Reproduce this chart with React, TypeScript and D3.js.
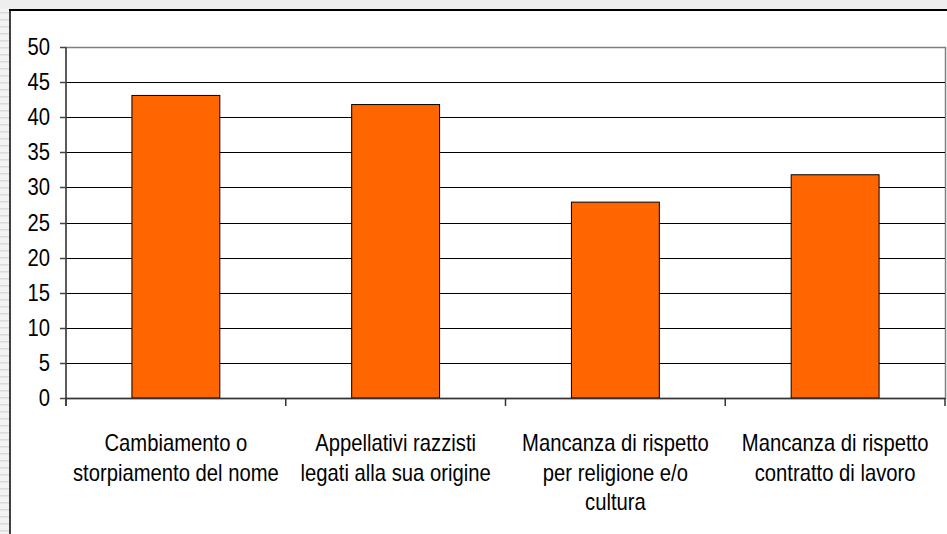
import React from "react";
import * as d3 from "d3";

const categories: string[][] = [
  ["Cambiamento o", "storpiamento del nome"],
  ["Appellativi razzisti", "legati alla sua origine"],
  ["Mancanza di rispetto", "per religione e/o", "cultura"],
  ["Mancanza di rispetto", "contratto di lavoro"],
];
const values: number[] = [43.1, 41.8, 27.9, 31.8];
const yTicks: number[] = [0, 5, 10, 15, 20, 25, 30, 35, 40, 45, 50];

const W = 947;
const H = 534;
const plot = { left: 66, right: 945, top: 47, bottom: 398 };

export default function App() {
  const y = d3.scaleLinear().domain([0, 50]).range([plot.bottom, plot.top]);
  const x = d3
    .scaleBand<number>()
    .domain(d3.range(values.length))
    .range([plot.left, plot.right])
    .paddingInner(0.6)
    .paddingOuter(0.3);
  const step = x.step();
  const boundaries = d3.range(values.length + 1).map((i) => plot.left + i * step);
  const font = "'Liberation Sans', Arial, sans-serif";

  return (
    <svg
      width={W}
      height={H}
      style={{ position: "fixed", left: 0, top: 0, display: "block", background: "#fff" }}
    >
      <defs>
        <pattern id="stripes" width="9" height="7" patternUnits="userSpaceOnUse">
          <rect width="9" height="7" fill="#f3f3f3" />
          <rect y="5" width="9" height="1.5" fill="#dadada" />
        </pattern>
      </defs>
      <rect x={0} y={0} width={W} height={9} fill="#eeeeee" />
      <rect x={0} y={9} width={9} height={H - 9} fill="url(#stripes)" />
      <rect x={9} y={9} width={W - 9} height={H - 9} fill="#fff" />
      <line x1={9} x2={W} y1={10} y2={10} stroke="#000" strokeWidth={2} />
      <line x1={10} x2={10} y1={9} y2={H} stroke="#000" strokeWidth={1.5} />

      {/* plot area border */}
      <rect
        x={plot.left}
        y={plot.top + 0.5}
        width={plot.right - plot.left + 0.5}
        height={plot.bottom - plot.top}
        fill="none"
        stroke="#808080"
        strokeWidth={1.5}
      />
      {/* gridlines */}
      {yTicks
        .filter((t) => t > 0 && t < 50)
        .map((t) => (
          <line
            key={"g" + t}
            x1={plot.left}
            x2={plot.right}
            y1={Math.round(y(t)) + 0.5}
            y2={Math.round(y(t)) + 0.5}
            stroke="#000"
            strokeWidth={1}
          />
        ))}
      {/* bars */}
      {values.map((v, i) => (
        <rect
          key={"b" + i}
          x={x(i)!}
          y={y(v)}
          width={x.bandwidth()}
          height={y(0) - y(v)}
          fill="#FF6600"
          stroke="#000"
          strokeWidth={1}
        />
      ))}
      {/* y axis */}
      <line x1={plot.left} x2={plot.left} y1={plot.top} y2={plot.bottom + 8} stroke="#444" strokeWidth={1.5} />
      {yTicks.map((t) => (
        <g key={"yt" + t}>
          <line
            x1={plot.left - 6}
            x2={plot.left}
            y1={Math.round(y(t)) + 0.5}
            y2={Math.round(y(t)) + 0.5}
            stroke="#444"
            strokeWidth={1.5}
          />
          <text
            transform={`translate(50, ${y(t) + 8}) scale(0.88,1)`}
            textAnchor="end"
            fontFamily={font}
            fontSize={23}
            fill="#000"
          >
            {t}
          </text>
        </g>
      ))}
      {/* x axis */}
      <line x1={plot.left} x2={plot.right} y1={plot.bottom + 0.5} y2={plot.bottom + 0.5} stroke="#333" strokeWidth={1.5} />
      {boundaries.map((b, i) => (
        <line key={"xt" + i} x1={b} x2={b} y1={plot.bottom} y2={plot.bottom + 8} stroke="#333" strokeWidth={1.5} />
      ))}
      {categories.map((lines, i) => (
        <g key={"c" + i}>
          {lines.map((ln, j) => (
            <text
              key={j}
              transform={`translate(${x(i)! + x.bandwidth() / 2}, ${451 + j * 29.5}) scale(0.88,1)`}
              textAnchor="middle"
              fontFamily={font}
              fontSize={23}
              fill="#000"
            >
              {ln}
            </text>
          ))}
        </g>
      ))}
    </svg>
  );
}
